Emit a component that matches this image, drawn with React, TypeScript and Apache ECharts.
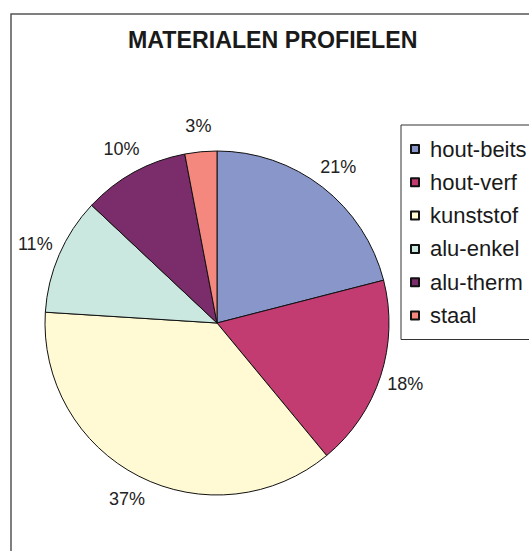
import React, { useEffect, useRef } from "react";
import * as echarts from "echarts";

const titleText = "MATERIALEN PROFIELEN";
const categories = ["hout-beits", "hout-verf", "kunststof", "alu-enkel", "alu-therm", "staal"];
const values = [21, 18, 37, 11, 10, 3];
const colors = ["#8896CA", "#C23C72", "#FFFAD4", "#CBE8E0", "#7B2D6B", "#F4887E"];

export default function App() {
  const ref = useRef<HTMLDivElement>(null);
  useEffect(() => {
    if (!ref.current) return;
    const chart = echarts.init(ref.current, undefined, { renderer: "svg" });
    const font = "'Liberation Sans', Arial, Helvetica, sans-serif";
    const data = categories.map((name, i) => ({
      name,
      value: values[i],
      itemStyle: { color: colors[i] },
    }));
    chart.setOption({
      animation: false,
      backgroundColor: "#ffffff",
      title: {
        text: titleText,
        left: 128,
        top: 28,
        padding: 0,
        textStyle: { fontFamily: font, fontSize: 23.2, fontWeight: "bold", color: "#1a1a1a" },
      },
      graphic: [
        {
          type: "rect",
          shape: { x: 11, y: 14, width: 700, height: 700 },
          style: { fill: "none", stroke: "#555", lineWidth: 1.5 },
          silent: true,
          z: -10,
        },
      ],
      legend: {
        data: categories,
        orient: "vertical",
        left: 401,
        top: 125,
        padding: [13, 40, 13, 9],
        itemWidth: 8,
        itemHeight: 8,
        itemGap: 11.3,
        icon: "rect",
        borderColor: "#333",
        borderWidth: 1,
        selectedMode: false,
        textStyle: {
          fontFamily: font,
          fontSize: 22,
          lineHeight: 22,
          color: "#1a1a1a",
          padding: [0, 0, 0, 6],
        },
      },
      series: [
        {
          type: "pie",
          center: [217, 323],
          radius: 172,
          startAngle: 90,
          clockwise: true,
          data,
          label: { show: false },
          labelLine: { show: false },
          itemStyle: { borderColor: "#111", borderWidth: 1 },
          emphasis: { disabled: true },
          silent: true,
        },
        {
          type: "pie",
          center: [217, 323],
          radius: [172, 218],
          startAngle: 90,
          clockwise: true,
          data: categories.map((name, i) => ({ name: name + "_lbl", value: values[i] })),
          itemStyle: { color: "rgba(0,0,0,0)", borderWidth: 0 },
          label: {
            show: true,
            position: "inside",
            formatter: "{c}%",
            fontFamily: font,
            fontSize: 18,
            color: "#222",
            textBorderWidth: 0,
          },
          labelLine: { show: false },
          emphasis: { disabled: true },
          silent: true,
        },
      ],
    });
    return () => chart.dispose();
  }, []);
  return (
    <div
      ref={ref}
      style={{ position: "fixed", left: 0, top: 0, width: 529, height: 551 }}
    />
  );
}
